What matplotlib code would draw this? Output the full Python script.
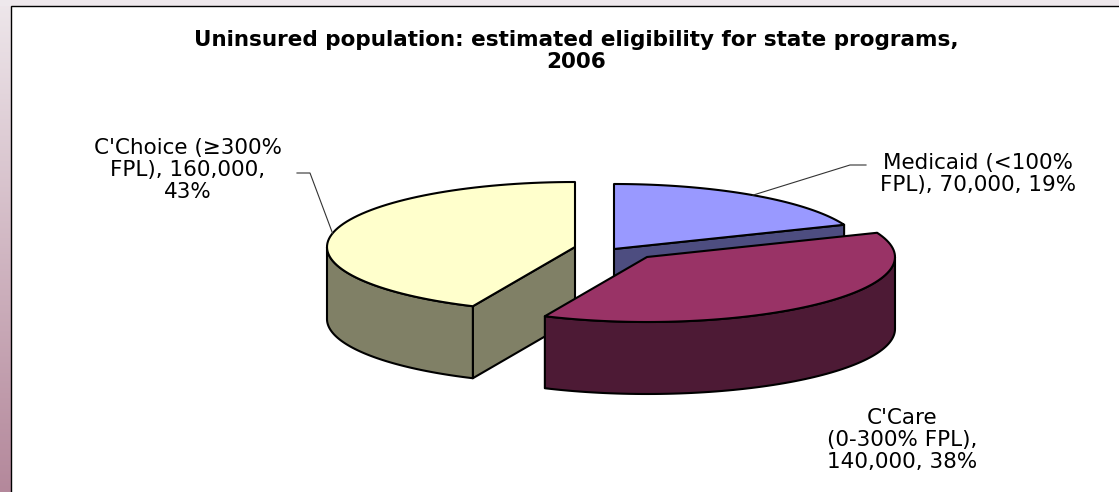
import matplotlib
matplotlib.use("Agg")
import matplotlib.pyplot as plt
from matplotlib.patches import Polygon, Rectangle
from matplotlib.colors import LinearSegmentedColormap
import numpy as np

# data
categories = ["Medicaid (<100%\nFPL)", "C'Care\n(0-300% FPL)", "C'Choice (\u2265300%\nFPL)"]
values = [70000, 140000, 160000]
title = "Uninsured population: estimated eligibility for state programs,\n2006"

# styles
top_colors = ['#9999ff', '#993366', '#ffffcc']
side_colors = ['#4d4d80', '#4d1a35', '#808066']
# separators: (after name, after value)
seps = [(", ", ", "), (",\n", ", "), (", ", ",\n")]
# pie geometry (pixel units)
RX, RY, H = 248, 65, 72
base = (600, 250)
explode = [(14, -1), (47, 7), (-25, -3)]
label_pos = [(978, 174), (902, 440), (188, 170)]
elbows = [[(866, 165), (850, 165)], None, [(297, 173), (310, 173)]]
draw_order = [0, 2, 1]

W, Hgt = 1119, 492
fig = plt.figure(figsize=(W / 100, Hgt / 100), dpi=100)
ax = fig.add_axes([0, 0, 1, 1])
ax.set_xlim(0, W)
ax.set_ylim(Hgt, 0)
ax.axis('off')

# background frame
cmap = LinearSegmentedColormap.from_list('frame', ['#eee7eb', '#b4889b'])
grad = np.linspace(0, 1, 256).reshape(-1, 1)
ax.imshow(grad, cmap=cmap, extent=(0, 11, Hgt, 0), aspect='auto', zorder=0)
ax.add_patch(Rectangle((0, 0), W, 6, facecolor='#eee8ec', edgecolor='none', zorder=0))
ax.add_patch(Rectangle((11, 6), W, Hgt, facecolor='white', edgecolor='black', lw=1.0, zorder=1))

total = float(sum(values))
fracs = [v / total for v in values]
starts = np.concatenate([[0], np.cumsum(fracs)[:-1]]) * 360
ends = np.cumsum(fracs) * 360


def pt(c, th, dy=0):
    r = np.radians(th)
    return (c[0] + RX * np.sin(r), c[1] - RY * np.cos(r) + dy)


def arc(c, a, b, dy=0, n=80):
    return [pt(c, t, dy) for t in np.linspace(a, b, n)]


def visible_radial(th, sign):
    # face normal along tangent direction, visible if it points toward viewer
    r = np.radians(th)
    return sign * np.sin(r) > 1e-6


z = 2
centers = []
for i in range(len(values)):
    centers.append((base[0] + explode[i][0], base[1] + explode[i][1]))

for i in draw_order:
    c = centers[i]
    a, b = starts[i], ends[i]
    kw = dict(edgecolor='black', lw=1.5, joinstyle='round')
    # radial faces
    for th, sign in ((a, -1), (b, 1)):
        if visible_radial(th, sign):
            p = pt(c, th)
            quad = [c, p, (p[0], p[1] + H), (c[0], c[1] + H)]
            ax.add_patch(Polygon(quad, closed=True, facecolor=side_colors[i], zorder=z, **kw))
            z += 1
    # outer wall
    lo, hi = max(a, 90), min(b, 270)
    if hi > lo:
        wall = arc(c, lo, hi) + arc(c, lo, hi, H)[::-1]
        ax.add_patch(Polygon(wall, closed=True, facecolor=side_colors[i], zorder=z, **kw))
        z += 1
    # top face
    top = [c] + arc(c, a, b)
    ax.add_patch(Polygon(top, closed=True, facecolor=top_colors[i], zorder=z, **kw))
    z += 1

# labels and leader lines
for i in range(len(values)):
    pct = int(round(fracs[i] * 100))
    s1, s2 = seps[i]
    txt = f"{categories[i]}{s1}{values[i]:,}{s2}{pct}%"
    ax.text(label_pos[i][0], label_pos[i][1], txt, ha='center', va='center',
            fontsize=15.5, family='DejaVu Sans', linespacing=1.14, color='black', zorder=50)
    if elbows[i] is not None:
        mid = (starts[i] + ends[i]) / 2
        tip = pt(centers[i], mid)
        xs = [p[0] for p in elbows[i]] + [tip[0]]
        ys = [p[1] for p in elbows[i]] + [tip[1]]
        ax.plot(xs, ys, color='#333333', lw=0.8, zorder=49)

ax.text(576, 51, title, ha='center', va='center', fontsize=15.5, fontweight='bold',
        family='DejaVu Sans', linespacing=1.07, zorder=50)

fig.savefig('out.png', dpi=100)
